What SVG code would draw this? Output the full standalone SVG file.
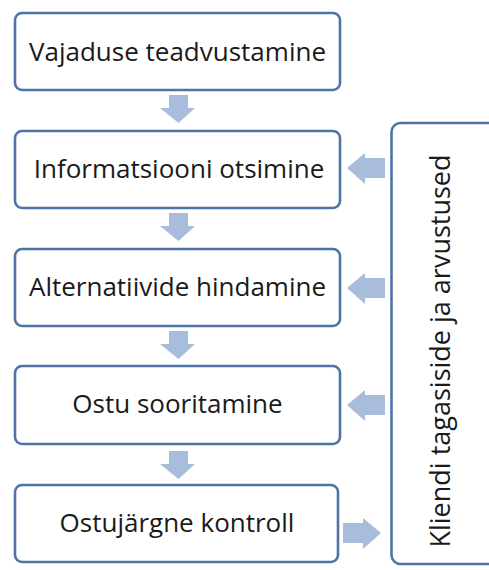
<svg xmlns="http://www.w3.org/2000/svg" width="489" height="570" viewBox="0 0 489 570">
<defs>
<style>
.box{fill:#ffffff;stroke:#4f73a6;stroke-width:2.6}
.lbl{font-family:"Open Sans","Liberation Sans",sans-serif;font-size:26px;fill:#1a1a1a;text-anchor:middle}
.vlbl{font-size:27px}
.arr{fill:#a8bcdc;stroke:none}
</style>
</defs>
<rect width="489" height="570" fill="#ffffff"/>
<g id="connectors">
<path class="arr" d="M169,95 H188 V108 H195 L178.5,123 L160,108 H169 Z"/>
<path class="arr" d="M169,213 H188 V226 H195 L178.5,241 L160,226 H169 Z"/>
<path class="arr" d="M169,331 H188 V344 H195 L178.5,359 L160,344 H169 Z"/>
<path class="arr" d="M169,451 H188 V464 H195 L178.5,479 L160,464 H169 Z"/>
<path class="arr" d="M385,158 V178 H365 V184 L347,168 L365,153 V158 Z"/>
<path class="arr" d="M385,278 V298 H365 V304 L347,288 L365,273 V278 Z"/>
<path class="arr" d="M385,395 V415 H365 V421 L347,405 L365,390 V395 Z"/>
<path class="arr" d="M343,523 V543 H363 V549 L381,533 L363,518 V523 Z"/>
</g>
<g id="n1"><rect class="box" x="15" y="13" width="325" height="77" rx="7"/><text class="lbl" x="177.5" y="60.5">Vajaduse teadvustamine</text></g>
<g id="n2"><rect class="box" x="15" y="131" width="325" height="77" rx="7"/><text class="lbl" x="179" y="178">Informatsiooni otsimine</text></g>
<g id="n3"><rect class="box" x="15" y="249" width="325" height="77" rx="7"/><text class="lbl" x="177.5" y="296">Alternatiivide hindamine</text></g>
<g id="n4"><rect class="box" x="15" y="366" width="325" height="78" rx="7"/><text class="lbl" x="177.5" y="413">Ostu sooritamine</text></g>
<g id="n5"><rect class="box" x="15" y="485" width="323" height="77" rx="7"/><text class="lbl" x="177" y="532">Ostujärgne kontroll</text></g>
<g id="n6"><rect class="box" x="391.5" y="123" width="120" height="441" rx="9"/><text class="lbl vlbl" transform="translate(450,351) rotate(-90)">Kliendi tagasiside ja arvustused</text></g>
</svg>
